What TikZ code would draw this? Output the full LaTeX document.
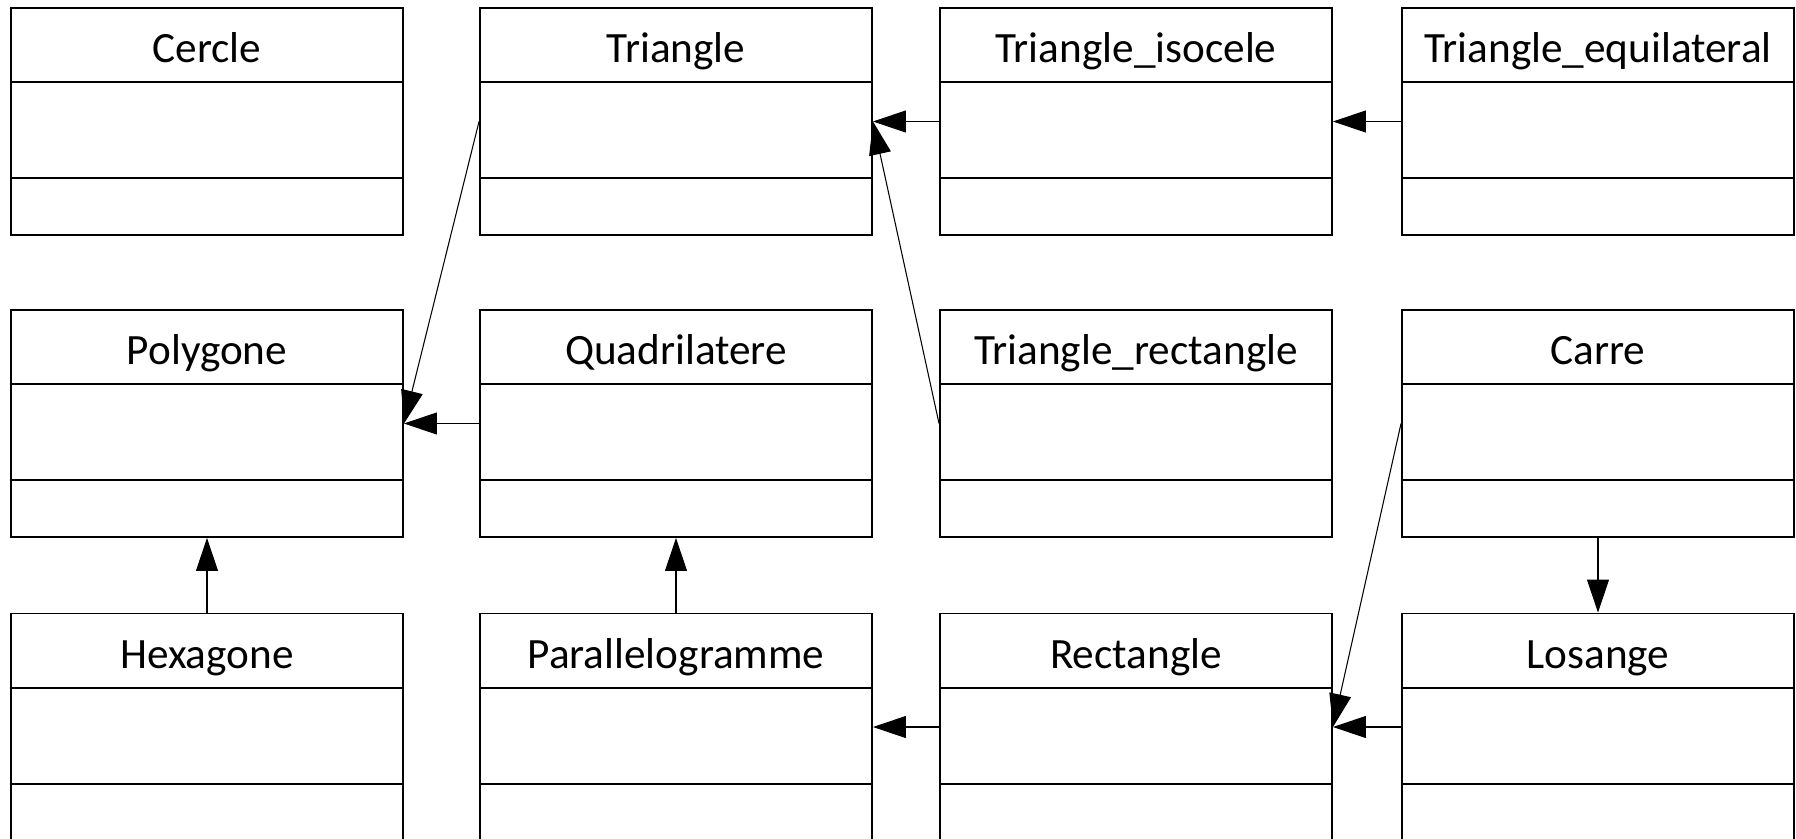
\documentclass[tikz,border=0pt]{standalone}
\usepackage{fontspec}
\setmainfont{Carlito}
\usetikzlibrary{arrows.meta,calc}

% Classe UML : nom, position, titre
\newcommand{\classe}[3]{%
    \node[classbox] (#1) at (#2) {};
    \node[classtitle] at ($(#1.north)+(0,55.5)$) {#3};
    \draw[classline] ($(#1.north west)+(0,75)$) -- ($(#1.north east)+(0,75)$);
    \draw[classline] ($(#1.north west)+(0,171)$) -- ($(#1.north east)+(0,171)$);
}

\begin{document}
\begin{tikzpicture}[
    x=0.1mm, y=-0.1mm,
    % Boîtes des classes
    classbox/.style={draw, line width=0.55pt, minimum width=3.92cm, minimum height=2.27cm, inner sep=0pt},
    classline/.style={line width=0.55pt},
    classtitle/.style={font=\fontsize{12.3}{14}\selectfont, inner sep=0pt, anchor=base},
    % Flèches d'héritage
    heritage/.style={line width=0.3pt, -{Triangle[length=3.3mm, width=2.2mm]}}
]

    \useasboundingbox (0,0) rectangle (1796,839);

    % Première ligne
    \classe{cercle}{207,121.5}{Cercle}
    \classe{tri}{676,121.5}{Triangle}
    \classe{iso}{1136,121.5}{Triangle\_isocele}
    \classe{equi}{1598,121.5}{Triangle\_equilateral}

    % Deuxième ligne
    \classe{poly}{207,423.5}{Polygone}
    \classe{quad}{676,423.5}{Quadrilatere}
    \classe{trirect}{1136,423.5}{Triangle\_rectangle}
    \classe{carre}{1598,423.5}{Carre}

    % Troisième ligne (coupée en bas)
    \classe{hexa}{207,727}{Hexagone}
    \classe{para}{676,727}{Parallelogramme}
    \classe{rect}{1136,727}{Rectangle}
    \classe{los}{1598,727}{Losange}

    % Héritages
    \draw[heritage] (iso.west) -- (tri.east);
    \draw[heritage] (equi.west) -- (iso.east);
    \draw[heritage] (trirect.west) -- (tri.east);
    \draw[heritage] (tri.west) -- (poly.east);
    \draw[heritage] (quad.west) -- (poly.east);
    \draw[heritage] (hexa.north) -- (poly.south);
    \draw[heritage] (para.north) -- (quad.south);
    \draw[heritage] (rect.west) -- (para.east);
    \draw[heritage] (los.west) -- (rect.east);
    \draw[heritage] (carre.west) -- (rect.east);
    \draw[heritage] (carre.south) -- (los.north);
\end{tikzpicture}
\end{document}
